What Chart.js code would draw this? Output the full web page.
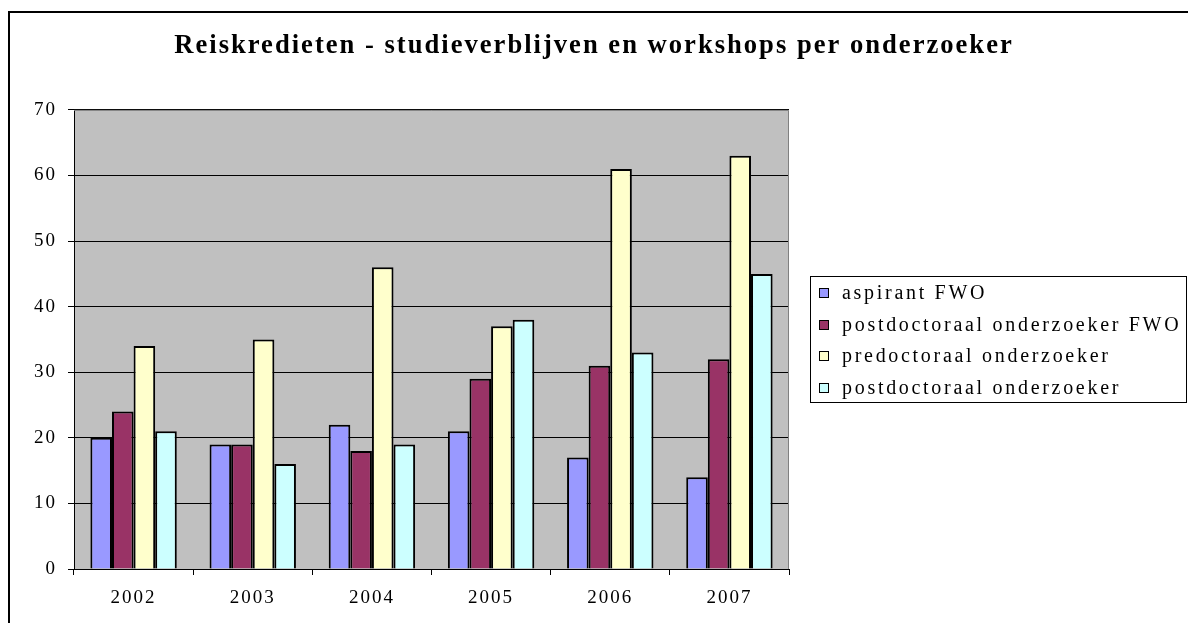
<!DOCTYPE html>
<html>
<head>
<meta charset="utf-8">
<script src="https://cdn.jsdelivr.net/npm/chart.js@4.4.1/dist/chart.umd.min.js"></script>
<style>
  html, body { margin: 0; padding: 0; background: #fff; }
  #chart { display: block; }
</style>
</head>
<body>
<canvas id="chart" width="1188" height="623"></canvas>
<script>
const years = ['2002', '2003', '2004', '2005', '2006', '2007'];
const seriesNames = ['aspirant FWO', 'postdoctoraal onderzoeker FWO', 'predoctoraal onderzoeker', 'postdoctoraal onderzoeker'];
const aspirantFWO = [20, 19, 22, 21, 17, 14];
const postdocFWO = [24, 19, 18, 29, 31, 32];
const predoc = [34, 35, 46, 37, 61, 63];
const postdoc = [21, 16, 19, 38, 33, 45];
const seriesColors = ['#9999FF', '#993366', '#FFFFCC', '#CCFFFF'];
const yMin = 0;
const yMax = 70;
const yStep = 10;

const serif = '"Liberation Serif", "Times New Roman", serif';
const spacingPx = '2px';

// Excel-style widened text
const spacing = {
  id: 'spacing',
  beforeUpdate(chart) { chart.ctx.letterSpacing = spacingPx; },
  beforeLayout(chart) { chart.ctx.letterSpacing = spacingPx; },
  beforeDraw(chart) { chart.ctx.letterSpacing = spacingPx; }
};

// grey plot area + outer frame
const plotArea = {
  id: 'plotArea',
  beforeDraw(chart) {
    const {ctx, chartArea: a} = chart;
    ctx.save();
    ctx.fillStyle = '#C0C0C0';
    ctx.fillRect(a.left, a.top, a.right - a.left, a.bottom - a.top);
    ctx.restore();
  },
  afterDraw(chart) {
    const {ctx, chartArea: a} = chart;
    ctx.save();
    ctx.strokeStyle = '#808080';
    ctx.lineWidth = 1;
    ctx.beginPath();
    ctx.moveTo(a.left, a.top + 0.5);
    ctx.lineTo(a.right - 0.5, a.top + 0.5);
    ctx.lineTo(a.right - 0.5, a.bottom);
    ctx.stroke();
    // frame round the whole picture
    ctx.strokeStyle = '#000';
    ctx.lineWidth = 2;
    ctx.beginPath();
    ctx.moveTo(9, chart.height);
    ctx.lineTo(9, 12);
    ctx.lineTo(chart.width, 12);
    ctx.stroke();
    ctx.restore();
  }
};

// legend in a box, drawn by hand so it sits where Excel put it
const boxLegend = {
  id: 'boxLegend',
  afterDraw(chart) {
    const {ctx} = chart;
    const left = 810, top = 276, right = 1187, bottom = 402;
    ctx.save();
    ctx.letterSpacing = '2.7px';
    ctx.strokeStyle = '#000';
    ctx.lineWidth = 1;
    ctx.strokeRect(left + 0.5, top + 0.5, right - left - 1, bottom - top);
    ctx.font = '20px ' + serif;
    ctx.textBaseline = 'middle';
    chart.data.datasets.forEach((ds, i) => {
      const cy = 293 + i * 31.6;
      ctx.fillStyle = ds.backgroundColor;
      ctx.fillRect(819, Math.round(cy) - 5, 10, 10);
      ctx.strokeStyle = '#000';
      ctx.strokeRect(819.5, Math.round(cy) - 4.5, 9, 9);
      ctx.fillStyle = '#000';
      ctx.fillText(ds.label, 842, cy + 1);
    });
    ctx.restore();
  }
};

const datasets = [aspirantFWO, postdocFWO, predoc, postdoc].map((values, i) => ({
  label: seriesNames[i],
  data: values,
  backgroundColor: seriesColors[i],
  borderColor: '#000',
  borderWidth: 2,
  barPercentage: 1,
  categoryPercentage: 0.725
}));

new Chart(document.getElementById('chart'), {
  type: 'bar',
  plugins: [spacing, plotArea, boxLegend],
  data: { labels: years, datasets: datasets },
  options: {
    responsive: false,
    animation: false,
    layout: { padding: 0 },
    plugins: {
      legend: { display: false },
      tooltip: { enabled: false },
      title: {
        display: true,
        text: 'Reiskredieten - studieverblijven en workshops per onderzoeker',
        color: '#000',
        font: { family: serif, size: 26.6, weight: 'bold', lineHeight: 1.2 },
        padding: { top: 30, bottom: 48 }
      }
    },
    scales: {
      x: {
        offset: true,
        grid: { offset: true, drawOnChartArea: false, color: '#000', tickLength: 6 },
        border: { color: '#000', width: 1 },
        ticks: { color: '#000', font: { family: serif, size: 19 }, padding: 12, maxRotation: 0 },
        afterFit(s) { s.height = 54; }
      },
      y: {
        min: yMin,
        max: yMax,
        ticks: { stepSize: yStep, color: '#000', font: { family: serif, size: 19 }, padding: 11 },
        grid: { color: '#000', tickLength: 6 },
        border: { color: '#000', width: 1 },
        afterFit(s) { s.width = 74; }
      },
      spacer: {
        type: 'linear',
        position: 'right',
        display: true,
        grid: { display: false },
        border: { display: false },
        ticks: { display: false },
        afterFit(s) { s.width = 399; }
      }
    }
  }
});
</script>
</body>
</html>
